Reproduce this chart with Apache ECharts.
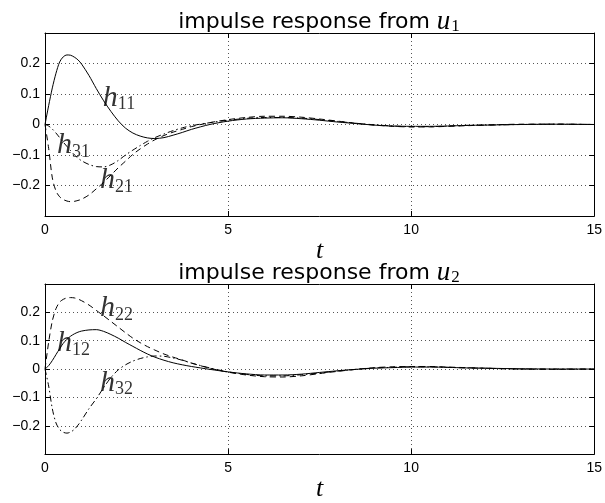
<!DOCTYPE html>
<html>
<head>
<meta charset="utf-8">
<script src="https://cdn.jsdelivr.net/npm/echarts@6/dist/echarts.min.js"></script>
<style>
html,body{margin:0;padding:0;background:#fff;}
#chart{width:605px;height:503px;}
</style>
</head>
<body>
<div id="chart"></div>
<script>
// time samples
const T = [0,0.1,0.2,0.3,0.4,0.5,0.6,0.7,0.8,0.9,1.0,1.2,1.4,1.6,1.8,2.0,2.2,2.4,2.6,2.8,3.0,3.25,3.5,3.75,4.0,4.5,5.0,5.5,6.0,6.5,7.0,7.5,8.0,8.5,9.0,9.5,10,10.5,11,11.5,12,13,14,15];

// impulse response from u1
const h11 = [0,0.062,0.12,0.168,0.205,0.222,0.228,0.227,0.221,0.212,0.198,0.161,0.118,0.078,0.043,0.012,-0.012,-0.028,-0.038,-0.044,-0.046,-0.043,-0.035,-0.026,-0.016,0.0,0.011,0.018,0.021,0.022,0.019,0.014,0.008,0.003,-0.002,-0.005,-0.006,-0.006,-0.005,-0.003,-0.002,0.0,0.001,0.0];
const h21 = [0,-0.078,-0.175,-0.218,-0.237,-0.246,-0.251,-0.253,-0.252,-0.249,-0.245,-0.231,-0.211,-0.19,-0.166,-0.142,-0.12,-0.098,-0.08,-0.064,-0.05,-0.036,-0.025,-0.016,-0.007,0.006,0.016,0.023,0.027,0.027,0.024,0.018,0.011,0.004,-0.002,-0.006,-0.008,-0.008,-0.006,-0.004,-0.002,0.001,0.001,0.0];
const h31 = [0,-0.005,-0.015,-0.028,-0.043,-0.058,-0.072,-0.086,-0.099,-0.11,-0.119,-0.131,-0.138,-0.139,-0.132,-0.118,-0.1,-0.084,-0.069,-0.055,-0.043,-0.031,-0.02,-0.011,-0.004,0.006,0.014,0.02,0.023,0.023,0.021,0.016,0.01,0.004,-0.001,-0.005,-0.007,-0.007,-0.005,-0.003,-0.002,0.0,0.001,0];

// impulse response from u2
const h12 = [0,0.012,0.03,0.051,0.072,0.091,0.105,0.116,0.124,0.13,0.134,0.138,0.139,0.133,0.122,0.109,0.094,0.08,0.066,0.053,0.042,0.031,0.022,0.015,0.009,-0.001,-0.01,-0.017,-0.021,-0.021,-0.018,-0.012,-0.006,-0.001,0.003,0.005,0.007,0.007,0.006,0.004,0.003,0.001,0,0];
const h22 = [0,0.095,0.17,0.213,0.236,0.246,0.251,0.252,0.251,0.247,0.241,0.226,0.207,0.188,0.168,0.148,0.128,0.109,0.093,0.079,0.067,0.053,0.042,0.032,0.021,0.003,-0.011,-0.021,-0.027,-0.028,-0.024,-0.016,-0.008,-0.001,0.005,0.008,0.009,0.009,0.007,0.005,0.003,0.0,-0.001,0];
const h32 = [0,-0.06,-0.14,-0.19,-0.213,-0.223,-0.226,-0.222,-0.213,-0.198,-0.18,-0.14,-0.105,-0.066,-0.03,-0.003,0.015,0.028,0.037,0.043,0.046,0.045,0.039,0.031,0.021,0.004,-0.01,-0.019,-0.024,-0.024,-0.02,-0.014,-0.007,-0.001,0.004,0.006,0.008,0.008,0.006,0.004,0.003,0,0,0];

// tick values
const xTicks = [0,5,10,15];
const yTicks = [-0.2,-0.1,0,0.1,0.2];

// curve labels (name, subscript, t, y) -- anchor = left middle of text
const labels1 = [['h','11',1.58,0.088],['h','31',0.33,-0.068],['h','21',1.5,-0.183]];
const labels2 = [['h','22',1.5,0.215],['h','12',0.33,0.09],['h','32',1.5,-0.048]];

const titles = ['impulse response from ', 'impulse response from '];
const titleSubs = ['1','2'];

function zip(xs, ys){ return xs.map((x,i)=>[x, ys[i]]); }

const chart = echarts.init(document.getElementById('chart'), null, {renderer:'canvas'});

const gridDefs = [
  {left:45, top:33, width:551, height:183},
  {left:45, top:284, width:551, height:183}
];
const nameGaps = [9, 6];

const tickFont = {fontFamily:'Liberation Sans', fontSize:14, color:'#000'};
const gridLine = {show:true, lineStyle:{color:'#555', type:[1,3], width:1}};

function fmtY(v){
  const r = Math.round(v*10)/10;
  if (!yTicks.some(t=>Math.abs(t-r)<1e-9)) return '';
  if (r === 0) return '0';
  return (r<0?'\u2212':'') + Math.abs(r).toFixed(1);
}

const xAxes = [], yAxes = [];
for (let g=0; g<2; g++){
  xAxes.push({
    gridIndex:g, type:'value', min:0, max:15, interval:5, position:'bottom',
    axisLine:{show:true, onZero:false, lineStyle:{color:'#000', width:1}},
    axisTick:{show:true, inside:true, length:5, lineStyle:{color:'#000'}},
    axisLabel:{...tickFont, margin:7, formatter:v=>xTicks.includes(v)?String(v):''},
    splitLine:gridLine,
    name:'t', nameLocation:'middle', nameGap:nameGaps[g],
    nameTextStyle:{fontFamily:'Liberation Serif', fontStyle:'italic', fontSize:26, color:'#000'}
  });
  xAxes.push({
    gridIndex:g, type:'value', min:0, max:15, interval:5, position:'top',
    axisLine:{show:true, onZero:false, lineStyle:{color:'#000', width:1}},
    axisTick:{show:true, inside:true, length:5, lineStyle:{color:'#000'}},
    axisLabel:{show:false}, splitLine:{show:false}
  });
  yAxes.push({
    gridIndex:g, type:'value', min:-0.3, max:0.3, interval:0.1, position:'left',
    axisLine:{show:true, onZero:false, lineStyle:{color:'#000', width:1}},
    axisTick:{show:true, inside:true, length:5, lineStyle:{color:'#000'}},
    axisLabel:{...tickFont, margin:5, formatter:fmtY, showMinLabel:false, showMaxLabel:false},
    splitLine:gridLine
  });
  yAxes.push({
    gridIndex:g, type:'value', min:-0.3, max:0.3, interval:0.1, position:'right',
    axisLine:{show:true, onZero:false, lineStyle:{color:'#000', width:1}},
    axisTick:{show:true, inside:true, length:5, lineStyle:{color:'#000'}},
    axisLabel:{show:false}, splitLine:{show:false}
  });
}

const styles = {
  solid:{color:'#000', width:1, type:'solid'},
  dashed:{color:'#000', width:1, type:[6,4]},
  dashdot:{color:'#000', width:1, type:[6,3,1.5,3]}
};

function lineSeries(g, data, st){
  return {
    type:'line', xAxisIndex:g*2, yAxisIndex:g*2, data:zip(T,data),
    showSymbol:false, smooth:0.3, lineStyle:styles[st], silent:true, z:3
  };
}

const richLabel = {
  h:{fontFamily:'Liberation Serif', fontStyle:'italic', fontSize:30, color:'#000', lineHeight:32, verticalAlign:'middle'},
  s:{fontFamily:'Liberation Serif', fontSize:18, color:'#000', lineHeight:14, verticalAlign:'bottom'}
};

function labelSeries(g, labs){
  return {
    type:'scatter', xAxisIndex:g*2, yAxisIndex:g*2, symbolSize:0, silent:true, z:5,
    data:labs.map(l=>({value:[l[2],l[3]]})),
    label:{show:true, position:'right', distance:0, color:'#000',
      formatter:p=>'{h|'+labs[p.dataIndex][0]+'}{s|'+labs[p.dataIndex][1]+'}',
      rich:richLabel}
  };
}

const titleRich = {
  a:{fontFamily:'DejaVu Sans', fontWeight:'normal', fontSize:22, color:'#000', lineHeight:26, verticalAlign:'middle'},
  u:{fontFamily:'Liberation Serif', fontWeight:'normal', fontStyle:'italic', fontSize:27, color:'#000', lineHeight:26, verticalAlign:'middle', padding:[0,1,0,0]},
  s:{fontFamily:'Liberation Serif', fontWeight:'normal', fontSize:17, color:'#000', lineHeight:12, verticalAlign:'bottom'}
};

const option = {
  animation:false,
  backgroundColor:'#fff',
  title:[
    {text:'{a|'+titles[0]+'}{u|u}{s|'+titleSubs[0]+'}', left:319, top:9, textAlign:'center', padding:0, textStyle:{fontWeight:'normal', rich:titleRich}},
    {text:'{a|'+titles[1]+'}{u|u}{s|'+titleSubs[1]+'}', left:319, top:260, textAlign:'center', padding:0, textStyle:{fontWeight:'normal', rich:titleRich}}
  ],
  grid:gridDefs,
  xAxis:xAxes,
  yAxis:yAxes,
  series:[
    lineSeries(0,h11,'solid'), lineSeries(0,h21,'dashed'), lineSeries(0,h31,'dashdot'),
    lineSeries(1,h12,'solid'), lineSeries(1,h22,'dashed'), lineSeries(1,h32,'dashdot'),
    labelSeries(0,labels1), labelSeries(1,labels2)
  ]
};
chart.setOption(option);
</script>
</body>
</html>
